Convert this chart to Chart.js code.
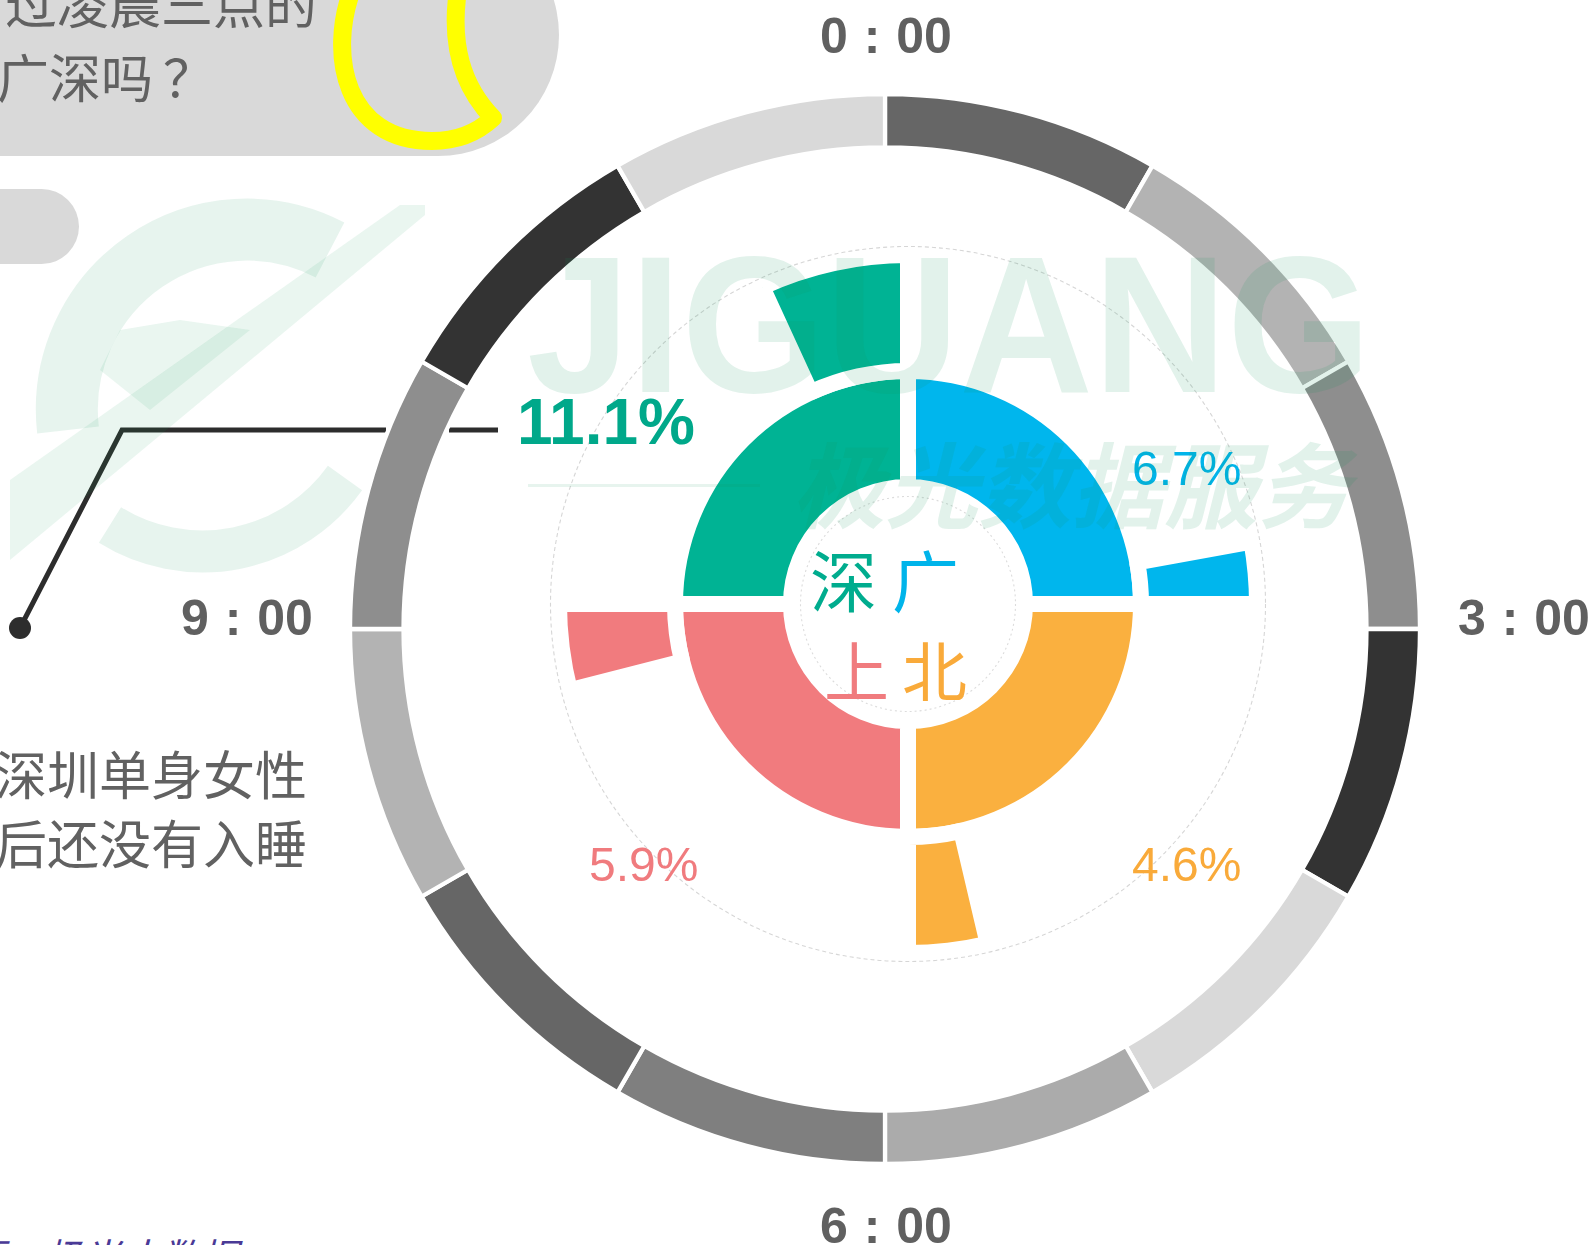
<!DOCTYPE html>
<html>
<head>
<meta charset="utf-8">
<script src="https://cdn.jsdelivr.net/npm/chart.js@4.4.0/dist/chart.umd.min.js"></script>
<style>
html, body { margin: 0; padding: 0; background: #fff; }
#page { position: relative; width: 1592px; height: 1245px; overflow: hidden; background: #fff;
  font-family: "Noto Sans CJK SC", "Noto Sans", sans-serif; }
.abs { position: absolute; white-space: nowrap; line-height: 1; }
.clock { font-family: "Liberation Sans", Arial, sans-serif; font-weight: bold; font-size: 50px; color: #606060; word-spacing: 2px; }
.pct { font-family: "Liberation Sans", Arial, sans-serif; font-size: 48px; }
.side { font-size: 52px; color: #616161; }
.city { font-size: 67px; }
.wm { color: rgba(20, 150, 90, 0.12); }
</style>
</head>
<body>
<div id="page">

  <!-- background decoration -->
  <svg class="abs" width="1592" height="1245" style="left:0;top:0">
    <rect x="-300" y="-86" width="859" height="242" rx="121" fill="#d9d9d9"/>
    <rect x="-100" y="189" width="179" height="75" rx="37.5" fill="#d9d9d9"/>
    <path d="M 352 -10 C 328 55, 345 141, 432 141 C 458 141, 478 132, 493 118 C 462 86, 450 45, 458 -10"
          fill="none" stroke="#ffff00" stroke-width="18" stroke-linecap="round" stroke-linejoin="round"/>
    <polyline points="20,628 122,430 386,430" fill="none" stroke="#2d2d2d" stroke-width="5"/>
    <line x1="449" y1="430" x2="498" y2="430" stroke="#2d2d2d" stroke-width="5"/>
    <circle cx="20" cy="628" r="11" fill="#2d2d2d"/>
  </svg>

  <div class="abs side" style="right:1275px;top:-24px">过凌晨三点的</div>
  <div class="abs side" style="left:-3px;top:50px">广深吗<span style="margin-left:10px">？</span></div>
  <div class="abs side" style="right:1285px;top:747px">深圳单身女性</div>
  <div class="abs side" style="right:1285px;top:816px">后还没有入睡</div>
  <div class="abs" style="left:-74px;top:1236px;font-size:39px;font-style:italic;color:#4a3a96">来源：极光大数据</div>

  <canvas id="clockRing" class="abs" width="1080" height="1080" style="left:345px;top:89px"></canvas>
  <canvas id="cityChart" class="abs" width="760" height="760" style="left:528px;top:224px"></canvas>

  <div class="abs clock" style="left:786px;width:200px;text-align:center;top:11px">0 : 00</div>
  <div class="abs clock" style="left:1458px;top:593px">3 : 00</div>
  <div class="abs clock" style="left:786px;width:200px;text-align:center;top:1201px">6 : 00</div>
  <div class="abs clock" style="left:181px;top:593px">9 : 00</div>

  <div id="labels"></div>

  <div class="abs city" style="left:810px;top:544px"><span style="color:#00ac8e">深</span> <span style="color:#00b4ea">广</span></div>
  <div class="abs city" style="left:824px;top:636px;font-size:65px"><span style="color:#f07b7e">上</span><span style="color:#f9aa3a;margin-left:13px">北</span></div>

  <!-- watermark on top -->
  <svg class="abs" width="1592" height="1245" style="left:0;top:0;pointer-events:none">
    <g fill="none" stroke="rgba(20,150,90,0.10)">
      <path d="M 68 430 A 180 180 0 0 1 330 250" stroke-width="62"/>
      <path d="M 110 525 A 175 175 0 0 0 345 478" stroke-width="42"/>
    </g>
    <polygon points="10,480 10,560 425,215 425,205 400,205" fill="rgba(20,150,90,0.09)"/>
    <polygon points="120,330 180,320 250,330 150,410 100,370" fill="rgba(20,150,90,0.09)"/>
    <rect x="528" y="484" width="232" height="3" fill="rgba(20,150,90,0.10)"/>
  </svg>
  <div class="abs wm" style="left:527px;top:212px;font:bold 195px 'Liberation Sans',Arial,sans-serif;transform:scaleX(0.95);transform-origin:left top">JIGUANG</div>
  <div class="abs wm" style="left:792px;top:434px;font-size:93px;font-weight:bold;font-style:italic">极光数据服务</div>
</div>

<script>
// clock ring: 12 hours, each the same size
var hourLabels = ['0:00', '1:00', '2:00', '3:00', '4:00', '5:00', '6:00', '7:00', '8:00', '9:00', '10:00', '11:00'];
var hourValues = [1, 1, 1, 1, 1, 1, 1, 1, 1, 1, 1, 1];
var hourColors = ['#666666', '#b3b3b3', '#8e8e8e', '#333333', '#d9d9d9', '#ababab',
                  '#7f7f7f', '#666666', '#b3b3b3', '#8e8e8e', '#333333', '#d9d9d9'];

// four cities, clockwise from 12 o'clock
var cities = ['广州', '北京', '上海', '深圳'];
var cityColors = ['#00b6ed', '#fab03f', '#f17b7e', '#00b394'];
var cityTextColors = ['#00b4ea', '#f9aa3a', '#f07b7e', '#00a88a'];
var quadrantValues = [90, 90, 90, 90];
// share still awake after 3:00 and the angle of the small wedge drawn for it
var awakePercent = [6.7, 4.6, 5.9, 11.1];
var wedgeDegrees = [10.3, 13.2, 14.3, 24.7];
var labelPos = [[1132, 445, false], [1132, 841, false], [589, 841, false], [517, 390, true]];

new Chart(document.getElementById('clockRing'), {
	type: 'doughnut',
	data: {
		labels: hourLabels,
		datasets: [{
			data: hourValues,
			backgroundColor: hourColors,
			borderColor: '#ffffff',
			borderWidth: 4.3,
			hoverBorderWidth: 4.3
		}]
	},
	options: {
		responsive: false,
		animation: false,
		events: [],
		radius: 535,
		cutout: '90%',
		plugins: { legend: { display: false }, tooltip: { enabled: false } }
	}
});

var wedgeData = [], wedgeColors = [], wedgeBorders = [], wedgeLabels = [];
for (var i = 0; i < cities.length; i++) {
	wedgeData.push(quadrantValues[i] - wedgeDegrees[i], wedgeDegrees[i]);
	wedgeColors.push('rgba(0,0,0,0)', cityColors[i]);
	wedgeBorders.push(0, 16);
	wedgeLabels.push('', cities[i]);
}

var guideCircles = {
	id: 'guideCircles',
	afterDatasetsDraw: function(chart) {
		var meta = chart.getDatasetMeta(0);
		var arc = meta.data[0];
		var ctx = chart.ctx;
		ctx.save();
		ctx.strokeStyle = '#d6d6d6';
		ctx.lineWidth = 1.1;
		ctx.setLineDash([4, 3]);
		ctx.beginPath();
		ctx.arc(arc.x, arc.y, meta.controller.outerRadius + 8.5, 0, Math.PI * 2);
		ctx.stroke();
		ctx.strokeStyle = '#dcdcdc';
		ctx.setLineDash([2, 3]);
		ctx.beginPath();
		ctx.arc(arc.x, arc.y, 107.5, 0, Math.PI * 2);
		ctx.stroke();
		ctx.restore();
	}
};

new Chart(document.getElementById('cityChart'), {
	type: 'doughnut',
	data: {
		labels: wedgeLabels,
		datasets: [{
			data: wedgeData,
			backgroundColor: wedgeColors,
			borderColor: '#ffffff',
			borderWidth: wedgeBorders,
			hoverBorderWidth: wedgeBorders
		}, {
			data: quadrantValues,
			backgroundColor: cityColors,
			borderColor: '#ffffff',
			borderWidth: 16,
			hoverBorderWidth: 16
		}]
	},
	options: {
		responsive: false,
		animation: false,
		events: [],
		radius: 349,
		cutout: '33.52%',
		plugins: { legend: { display: false }, tooltip: { enabled: false } }
	},
	plugins: [guideCircles]
});

var holder = document.getElementById('labels');
for (var j = 0; j < awakePercent.length; j++) {
	var d = document.createElement('div');
	d.className = 'abs pct';
	d.textContent = awakePercent[j].toFixed(1) + '%';
	d.style.left = labelPos[j][0] + 'px';
	d.style.top = labelPos[j][1] + 'px';
	d.style.color = cityTextColors[j];
	if (labelPos[j][2]) {
		d.style.fontSize = '64px';
		d.style.fontWeight = 'bold';
	}
	holder.appendChild(d);
}
</script>
</body>
</html>
